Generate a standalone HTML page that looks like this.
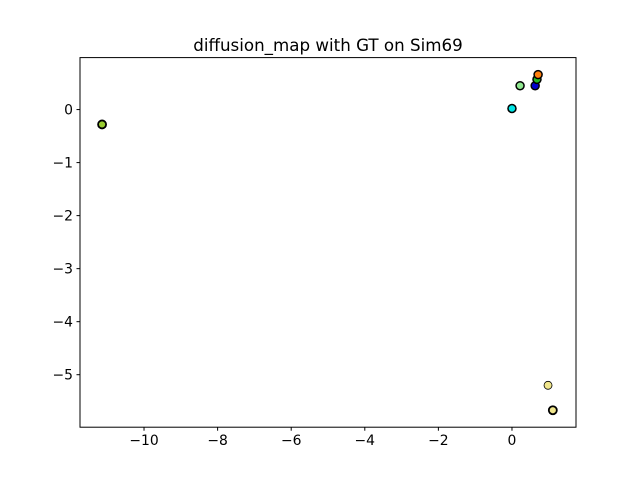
<!DOCTYPE html>
<html><head><meta charset="utf-8"><style>body{margin:0;background:#fff}svg{display:block;font-family:"DejaVu Sans","Liberation Sans",sans-serif}</style></head>
<body>
<svg id="chart" width="640" height="480" xmlns="http://www.w3.org/2000/svg">
<rect width="640" height="480" fill="#fff"/>
<text x="328" y="51" font-size="16.7" text-anchor="middle">diffusion_map with GT on Sim69</text>
<g id="plot"></g>
<rect x="80" y="57.6" width="496" height="369.6" fill="none" stroke="#000" stroke-width="1"/>
</svg>
<script>
const xs=[0.0,0.22,0.63,0.68,0.71,0.98,1.11,-11.14];
const ys=[0.02,0.45,0.45,0.57,0.66,-5.2,-5.67,-0.28];
const colors=["#00e5e5","#90e890","#0000cc","#22bb22","#ff7f0e","#f0e68c","#f0e68c","#9acd32"];
const edges=[1.5,1.5,1.5,1.5,1.5,0.8,1.8,1.8];
const xTicks=[-10,-8,-6,-4,-2,0];
const yTicks=[0,-1,-2,-3,-4,-5];
const X0=-11.74,X1=1.74,Y0=-5.99,Y1=0.98;
const L=80,R=576,T=57.6,B=427.2;
const sx=v=>L+(v-X0)/(X1-X0)*(R-L);
const sy=v=>B-(v-Y0)/(Y1-Y0)*(B-T);
const g=document.getElementById('plot');
const NS="http://www.w3.org/2000/svg";
function mk(t,a){const e=document.createElementNS(NS,t);for(const k in a)e.setAttribute(k,a[k]);g.appendChild(e);return e;}
xTicks.forEach(v=>{const x=sx(v);
 const l=mk('line',{x1:x,x2:x,y1:B,y2:B+3.5,stroke:'#000'});
 
 
 const t=mk('text',{x:x,y:B+18,'font-size':13.9,'text-anchor':'middle'});t.textContent=(v<0?'\u2212'+(-v):v);
 
 });
yTicks.forEach(v=>{const y=sy(v);
 const l=mk('line',{x1:L-3.5,x2:L,y1:y,y2:y,stroke:'#000'});
 
 
 const t=mk('text',{x:L-7,y:y+5,'font-size':13.9,'text-anchor':'end'});t.textContent=(v<0?'\u2212'+(-v):v);
 
 });
xs.forEach((v,i)=>{const c=mk('circle',{cx:sx(v),cy:sy(ys[i]),r:4,fill:colors[i],stroke:'#000','stroke-width':edges[i]});
 
 });
</script>
</body></html>
